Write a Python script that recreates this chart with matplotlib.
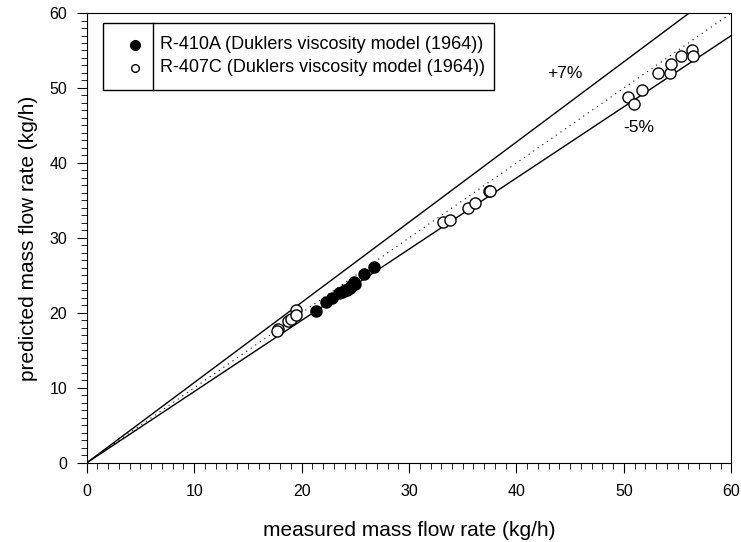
import matplotlib.pyplot as plt
from matplotlib.lines import Line2D
from matplotlib.patches import Rectangle
import numpy as np

plt.rcParams['font.family'] = ['Liberation Sans', 'DejaVu Sans']

# R-410A (filled)
r410a_meas = [21.3, 22.3, 22.8, 23.5, 23.8, 24.0, 24.2, 24.5, 24.6, 24.9, 25.0, 25.8, 26.7]
r410a_pred = [20.3, 21.5, 22.0, 22.7, 22.8, 23.1, 23.0, 23.3, 23.6, 24.1, 23.8, 25.2, 26.1]

# R-407C (open)
r407c_meas = [17.8, 17.7, 18.7, 19.0, 19.5, 19.5,
              33.2, 33.8, 35.5, 36.1, 37.4, 37.5,
              50.4, 50.9, 51.7, 53.2, 54.3, 54.4, 55.3, 56.3, 56.4]
r407c_pred = [17.9, 17.6, 18.9, 19.2, 20.4, 19.7,
              32.1, 32.4, 34.0, 34.6, 36.2, 36.3,
              48.8, 47.9, 49.7, 52.0, 52.0, 53.2, 54.3, 55.1, 54.3]

series_labels = ['R-410A (Duklers viscosity model (1964))',
                 'R-407C (Duklers viscosity model (1964))']
upper_factor = 1.07
lower_factor = 0.95


def main():
    fig = plt.figure(figsize=(7.41, 5.42), dpi=100)
    ax = fig.add_axes([0.117, 0.146, 0.870, 0.830])

    xs = np.array([0, 60])
    ax.plot(xs, upper_factor * xs, color='black', lw=1.0)
    ax.plot(xs, lower_factor * xs, color='black', lw=1.0)
    ax.plot(xs, xs, color='black', lw=0.8, ls=(0, (1, 4)))

    ax.plot(r410a_meas, r410a_pred, 'o', ms=8, mfc='black', mec='black', mew=1)
    ax.plot(r407c_meas, r407c_pred, 'o', ms=8, mfc='white', mec='black', mew=1)

    ax.text(44.5, 51.9, '+7%', fontsize=12.5, ha='center', va='center')
    ax.text(51.4, 44.7, '-5%', fontsize=12.5, ha='center', va='center')

    ax.set_xlim(0, 60)
    ax.set_ylim(0, 60)
    ax.set_xticks(range(0, 61, 10))
    ax.set_yticks(range(0, 61, 10))
    ax.set_xticks(range(0, 61, 1), minor=True)
    ax.set_yticks(range(0, 61, 1), minor=True)
    ax.tick_params(which='both', direction='out', top=False, right=False, labelsize=11.5)
    ax.tick_params(which='major', length=7)
    ax.tick_params(which='minor', length=4)
    ax.tick_params(axis='x', pad=8)
    ax.tick_params(axis='y', pad=7)
    ax.set_xlabel('measured mass flow rate (kg/h)', fontsize=15, labelpad=16)
    ax.set_ylabel('predicted mass flow rate (kg/h)', fontsize=15, labelpad=8)

    # sigmaplot style legend: box with a divider between symbols and text
    tr = ax.transAxes
    rows_y = [0.929, 0.878]
    ax.plot(0.0745, rows_y[0], 'o', ms=7, mfc='black', mec='black', transform=tr, clip_on=False)
    ax.plot(0.0745, rows_y[1], 'o', ms=5.5, mfc='white', mec='black', mew=1, transform=tr, clip_on=False)
    texts = [ax.text(0.1134, y, lab, fontsize=13, va='center', transform=tr)
             for y, lab in zip(rows_y, series_labels)]
    fig.canvas.draw()
    inv = ax.transAxes.inverted()
    right_px = max(t.get_window_extent().x1 for t in texts) + 9
    right = inv.transform((right_px, 0))[0]
    ax.add_patch(Rectangle((0.0248, 0.829), right - 0.0248, 0.978 - 0.829, transform=tr,
                           fill=False, edgecolor='black', lw=1.0))
    ax.add_line(Line2D([0.1025, 0.1025], [0.829, 0.978], transform=tr, color='black', lw=1.0))

    fig.savefig('out.png', dpi=100)


if __name__ == '__main__':
    main()
